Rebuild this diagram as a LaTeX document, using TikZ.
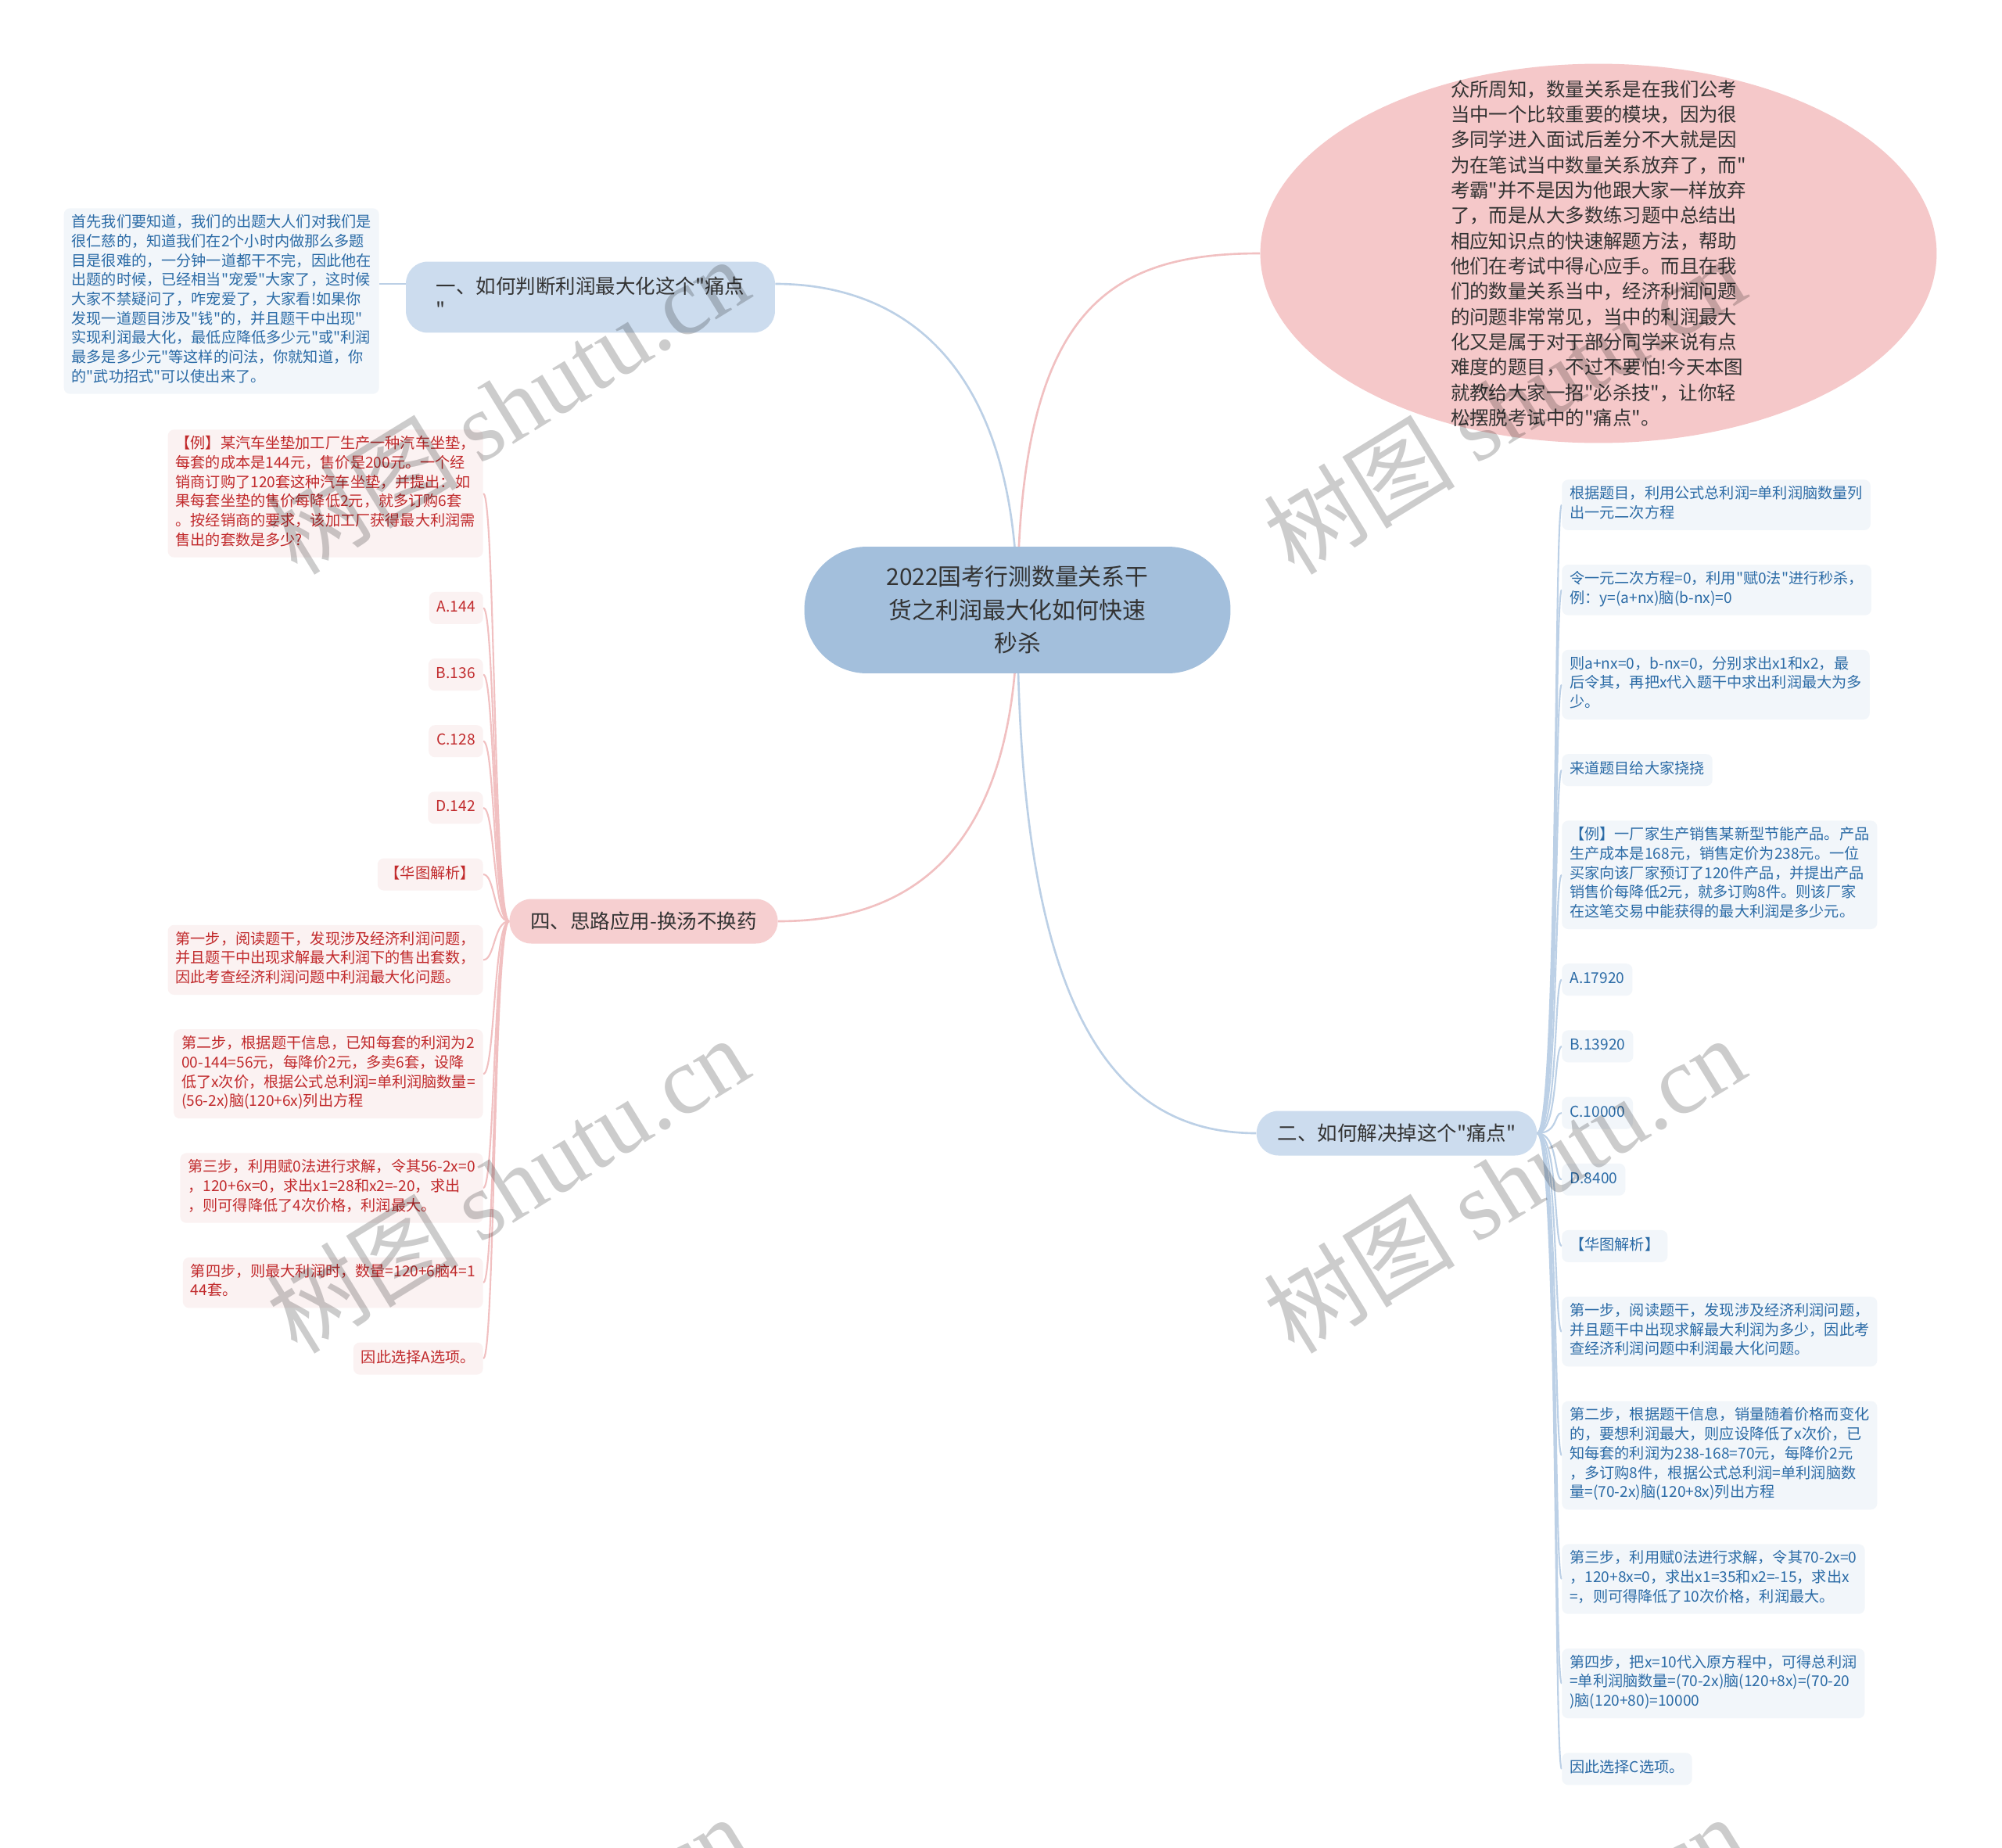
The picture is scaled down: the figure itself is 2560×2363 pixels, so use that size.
\documentclass[tikz,border=0pt]{standalone}
\usepackage{fontspec}
\setmainfont{Noto Sans CJK SC}[Ligatures=TeXOff]
\newfontfamily\wmfont{Liberation Serif}
\usepackage{tikz}
\usetikzlibrary{positioning, calc, backgrounds, shapes.geometric}
\definecolor{blueA}{HTML}{2B6BA6}
\definecolor{blueB}{HTML}{CCDCEE}
\definecolor{blueC}{HTML}{A3BFDC}
\definecolor{blueL}{HTML}{BCD0E6}
\definecolor{redA}{HTML}{C12A2C}
\definecolor{redB}{HTML}{F6CFD0}
\definecolor{redC}{HTML}{F5C8C9}
\definecolor{redL}{HTML}{F1C0C1}
\definecolor{inkA}{HTML}{333333}
\tikzset{
  mindroot/.style={
    fill=blueC, text=inkA, rounded corners=1.6cm, align=center,
    minimum width=10.9cm, minimum height=3.24cm,
    font=\fontsize{17}{24.2}\selectfont
  },
  branch/.style={
    fill=#1, text=inkA, rounded corners=0.56cm, align=left,
    inner xsep=0.54cm, minimum height=1.14cm,
    font=\fontsize{14.5}{17}\selectfont
  },
  leaf/.style={
    fill=#1!6, text=#1, rounded corners=0.16cm, align=left,
    inner xsep=0.2cm, inner ysep=0.163cm,
    font=\fontsize{10.9}{14.05}\selectfont,
    execute at begin node=\strut, execute at end node=\strut
  },
  introbg/.style={ellipse, fill=redC, inner sep=0pt, minimum width=17.3cm, minimum height=9.7cm},
  introtxt/.style={text=inkA, align=left, inner sep=0pt, font=\fontsize{13.9}{18.4}\selectfont},
  link/.style={draw=#1, line width=1.5pt},
  twig/.style={draw=#1, line width=1.2pt},
  wmark/.style={text=black, opacity=0.2, rotate=31.6, font=\fontsize{70}{70}\selectfont}
}

\begin{document}
\begin{tikzpicture}[x=0.02cm, y=-0.02cm]
  \useasboundingbox (0,0) rectangle (2560,2363);

  % centre and main branches
  \node[mindroot] (root) at (1301,780) {2022国考行测数量关系干\\货之利润最大化如何快速\\秒杀};
  \node[branch=blueB, minimum width=9.44cm, minimum height=1.82cm] (b1) at (755,380) {一、如何判断利润最大化这个"痛点\\"};
  \node[branch=redB] (b4) at (823,1178) {四、思路应用-换汤不换药};
  \node[branch=blueB] (b2) at (1786,1449) {二、如何解决掉这个"痛点"};
  \coordinate (b1e) at ($(b1.east)+(0,-17)$);
  \coordinate (b1w) at ($(b1.west)+(0,-17)$);

  % intro bubble
  \node[introbg] (intro) at (2044,324) {};
  \node[introtxt] (introtext) at (intro.center) {众所周知，数量关系是在我们公考\\当中一个比较重要的模块，因为很\\多同学进入面试后差分不大就是因\\为在笔试当中数量关系放弃了，而"\\考霸"并不是因为他跟大家一样放弃\\了，而是从大多数练习题中总结出\\相应知识点的快速解题方法，帮助\\他们在考试中得心应手。而且在我\\们的数量关系当中，经济利润问题\\的问题非常常见，当中的利润最大\\化又是属于对于部分同学来说有点\\难度的题目，不过不要怕!今天本图\\就教给大家一招"必杀技"，让你轻\\松摆脱考试中的"痛点"。};

  % branch 1 leaf
  \node[leaf=blueA, anchor=east] (lf1) at (485,385) {首先我们要知道，我们的出题大人们对我们是\\很仁慈的，知道我们在2个小时内做那么多题\\目是很难的，一分钟一道都干不完，因此他在\\出题的时候，已经相当"宠爱"大家了，这时候\\大家不禁疑问了，咋宠爱了，大家看!如果你\\发现一道题目涉及"钱"的，并且题干中出现"\\实现利润最大化，最低应降低多少元"或"利润\\最多是多少元"等这样的问法，你就知道，你\\的"武功招式"可以使出来了。};

  % branch 4 leaves
  \node[leaf=redA, anchor=north east] (ex) at (618,549) {【例】某汽车坐垫加工厂生产一种汽车坐垫，\\每套的成本是144元，售价是200元。一个经\\销商订购了120套这种汽车坐垫，并提出：如\\果每套坐垫的售价每降低2元，就多订购6套\\。按经销商的要求，该加工厂获得最大利润需\\售出的套数是多少?};
  \node[leaf=redA, below=0.87cm of ex.south east, anchor=north east] (la) {A.144};
  \node[leaf=redA, below=0.87cm of la.south east, anchor=north east] (lb) {B.136};
  \node[leaf=redA, below=0.87cm of lb.south east, anchor=north east] (lc) {C.128};
  \node[leaf=redA, below=0.87cm of lc.south east, anchor=north east] (ld) {D.142};
  \node[leaf=redA, below=0.87cm of ld.south east, anchor=north east] (lh) {【华图解析】};
  \node[leaf=redA, below=0.87cm of lh.south east, anchor=north east] (l1) {第一步，阅读题干，发现涉及经济利润问题，\\并且题干中出现求解最大利润下的售出套数，\\因此考查经济利润问题中利润最大化问题。};
  \node[leaf=redA, below=0.87cm of l1.south east, anchor=north east] (l2) {第二步，根据题干信息，已知每套的利润为2\\00-144=56元，每降价2元，多卖6套，设降\\低了x次价，根据公式总利润=单利润脑数量=\\(56-2x)脑(120+6x)列出方程};
  \node[leaf=redA, below=0.87cm of l2.south east, anchor=north east] (l3) {第三步，利用赋0法进行求解，令其56-2x=0\\，120+6x=0，求出x1=28和x2=-20，求出\\，则可得降低了4次价格，利润最大。};
  \node[leaf=redA, below=0.87cm of l3.south east, anchor=north east] (l4) {第四步，则最大利润时，数量=120+6脑4=1\\44套。};
  \node[leaf=redA, below=0.87cm of l4.south east, anchor=north east] (l5) {因此选择A选项。};

  % branch 2 leaves
  \node[leaf=blueA, anchor=north west] (r1) at (1997,613) {根据题目，利用公式总利润=单利润脑数量列\\出一元二次方程};
  \node[leaf=blueA, below=0.87cm of r1.south west, anchor=north west] (r2) {令一元二次方程=0，利用"赋0法"进行秒杀，\\例：y=(a+nx)脑(b-nx)=0};
  \node[leaf=blueA, below=0.87cm of r2.south west, anchor=north west] (r3) {则a+nx=0，b-nx=0，分别求出x1和x2，最\\后令其，再把x代入题干中求出利润最大为多\\少。};
  \node[leaf=blueA, below=0.87cm of r3.south west, anchor=north west] (r4) {来道题目给大家挠挠};
  \node[leaf=blueA, below=0.87cm of r4.south west, anchor=north west] (r5) {【例】一厂家生产销售某新型节能产品。产品\\生产成本是168元，销售定价为238元。一位\\买家向该厂家预订了120件产品，并提出产品\\销售价每降低2元，就多订购8件。则该厂家\\在这笔交易中能获得的最大利润是多少元。};
  \node[leaf=blueA, below=0.87cm of r5.south west, anchor=north west] (ra) {A.17920};
  \node[leaf=blueA, below=0.87cm of ra.south west, anchor=north west] (rb) {B.13920};
  \node[leaf=blueA, below=0.87cm of rb.south west, anchor=north west] (rc) {C.10000};
  \node[leaf=blueA, below=0.87cm of rc.south west, anchor=north west] (rd) {D.8400};
  \node[leaf=blueA, below=0.87cm of rd.south west, anchor=north west] (rh) {【华图解析】};
  \node[leaf=blueA, below=0.87cm of rh.south west, anchor=north west] (s1) {第一步，阅读题干，发现涉及经济利润问题，\\并且题干中出现求解最大利润为多少，因此考\\查经济利润问题中利润最大化问题。};
  \node[leaf=blueA, below=0.87cm of s1.south west, anchor=north west] (s2) {第二步，根据题干信息，销量随着价格而变化\\的，要想利润最大，则应设降低了x次价，已\\知每套的利润为238-168=70元，每降价2元\\，多订购8件，根据公式总利润=单利润脑数\\量=(70-2x)脑(120+8x)列出方程};
  \node[leaf=blueA, below=0.87cm of s2.south west, anchor=north west] (s3) {第三步，利用赋0法进行求解，令其70-2x=0\\，120+8x=0，求出x1=35和x2=-15，求出x\\=，则可得降低了10次价格，利润最大。};
  \node[leaf=blueA, below=0.87cm of s3.south west, anchor=north west] (s4) {第四步，把x=10代入原方程中，可得总利润\\=单利润脑数量=(70-2x)脑(120+8x)=(70-20\\)脑(120+80)=10000};
  \node[leaf=blueA, below=0.87cm of s4.south west, anchor=north west] (s5) {因此选择C选项。};

  % connectors behind the nodes
  \begin{scope}[on background layer]
    \fill[white] (0,0) rectangle (2560,2363);
    \draw[link=blueL] (root.center) .. controls +(0,-330) and +(150,0) .. (b1e);
    \draw[link=redL] (root.center) .. controls +(0,-380) and +(-200,0) .. (intro.west);
    \draw[link=redL] (root.center) .. controls +(0,330) and +(150,0) .. (b4.east);
    \draw[link=blueL] (root.center) .. controls +(0,520) and +(-180,0) .. (b2.west);
    \draw[twig=blueL] (b1w) -- (b1w -| lf1.east);
    \foreach \n in {ex,la,lb,lc,ld,lh,l1,l2,l3,l4,l5}
      \draw[twig=redL] (b4.west) .. controls +(-20,0) and +(15,0) .. (\n.east);
    \foreach \n in {r1,r2,r3,r4,r5,ra,rb,rc,rd,rh,s1,s2,s3,s4,s5}
      \draw[twig=blueL] (b2.east) .. controls +(27,0) and +(-10,0) .. (\n.west);
  \end{scope}

  % watermarks
  \foreach \wx/\wy in {649/518, 1923/518, 649/1514, 1923/1514, 649/2510, 1923/2510}
    \node[wmark] at (\wx,\wy) {树图 {\wmfont shutu.cn}};
\end{tikzpicture}
\end{document}
